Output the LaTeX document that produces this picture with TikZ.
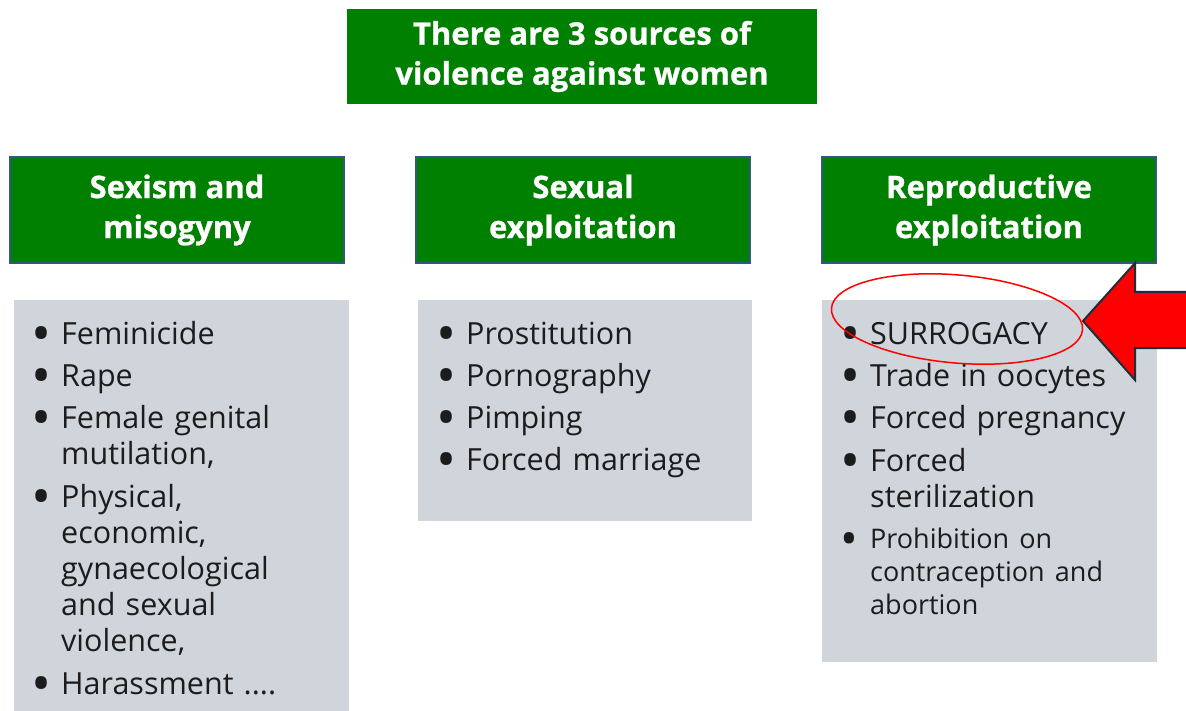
\documentclass[tikz,border=0pt]{standalone}
\usepackage{fontspec}
\setmainfont{Open Sans}
\newfontfamily\headfont{Open Sans}[BoldFeatures={FakeBold=0.8}]
\usetikzlibrary{shapes.geometric}
\definecolor{headgreen}{RGB}{0,128,0}
\definecolor{headline}{RGB}{52,88,128}
\definecolor{listgrey}{RGB}{208,213,220}
\definecolor{listtext}{RGB}{28,28,28}
\definecolor{arrowline}{RGB}{30,45,60}
\newlength\bind
\setlength\bind{30pt}
% one bullet point, later lines hang under the text
\newcommand\bitem[1]{\par\noindent\makebox[\bind][l]{\raisebox{-.27em}{\scalebox{1.75}{\textbullet}}}%
  \parbox[t]{290pt}{\raggedright\strut#1\strut}}
\tikzset{x=1pt,y=-1pt,
  head/.style={rectangle,fill=headgreen,draw=headline,line width=1.5pt,text=white,
    font=\fontsize{31}{40}\headfont\bfseries,align=center,inner sep=0pt},
  greybox/.style={rectangle,fill=listgrey,anchor=north west,inner sep=0pt},
  list/.style={anchor=north west,inner sep=0pt,text width=320pt,align=left,text=listtext,
    font={\fontsize{30.5}{36}\selectfont\setlength\parskip{6pt}}}}

\begin{document}
\begin{tikzpicture}
  \useasboundingbox (0,0) rectangle (1186,711);
  \clip (0,0) rectangle (1186,711);
  \fill[white] (0,0) rectangle (1186,711);

  \node[head,draw=headgreen,minimum width=468,minimum height=93] (top) at (582,56.5)
    {There are 3 sources of\\violence against women};

  \node[head,minimum width=334,minimum height=106] (sex) at (177,210) {Sexism and\\misogyny};
  \node[head,minimum width=334,minimum height=106] (sexex) at (583,210) {Sexual\\exploitation};
  \node[head,minimum width=334,minimum height=106] (repex) at (989,210) {Reproductive\\exploitation};

  \node[greybox,minimum width=335,minimum height=420] (a) at (14,300) {};
  \node[greybox,minimum width=334,minimum height=221] (b) at (418,300) {};
  \node[greybox,minimum width=335,minimum height=362] (c) at (822,300) {};

  \node[list] (la) at (31,302) {%
    \bitem{Feminicide}
    \bitem{Rape}
    \bitem{Female genital\\mutilation,}
    \bitem{Physical,\\economic,\\gynaecological\\and sexual\\violence,}
    \bitem{Harassment ....}\par};

  \node[list] (lb) at (436,302) {%
    \bitem{Prostitution}
    \bitem{Pornography}
    \bitem{Pimping}
    \bitem{Forced marriage}\par};

  \node[list] (lc) at (840,302) {%
    \bitem{SURROGACY}
    \bitem{Trade in oocytes}
    \bitem{Forced pregnancy}
    \bitem{Forced\\sterilization}
    {\fontsize{27}{33}\selectfont\bitem{Prohibition on\\contraception and\\abortion}\par}};

  \node[ellipse,draw=red,line width=1.5pt,minimum width=252,minimum height=88,rotate=-5] (ring) at (957,319) {};

  \coordinate (tip) at (1083,321);
  \draw[fill=red,draw=arrowline,line width=2pt,line join=miter]
    (tip) -- (1135,263) -- (1135,292) -- (1200,292) -- (1200,348) -- (1135,348) -- (1135,380) -- cycle;
\end{tikzpicture}
\end{document}
